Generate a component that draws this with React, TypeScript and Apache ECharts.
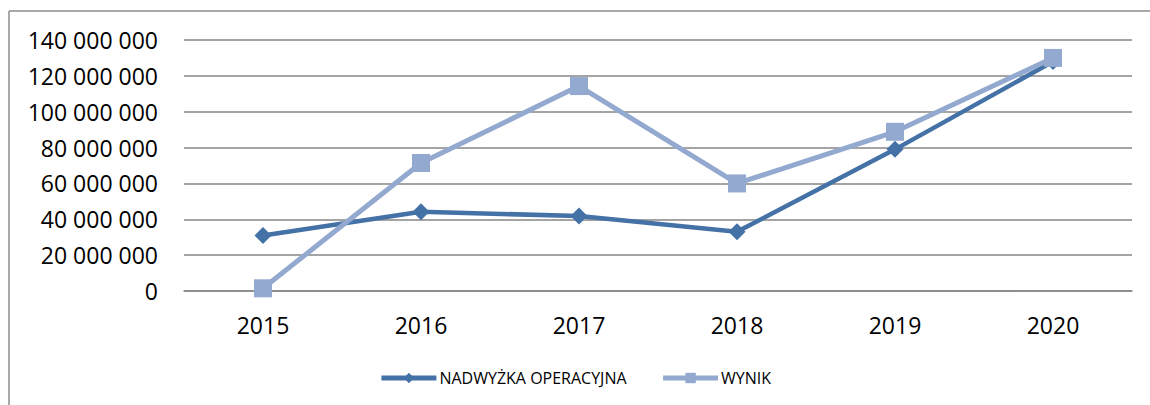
import React, { useEffect, useRef } from "react";
import * as echarts from "echarts";

const categories = ["2015", "2016", "2017", "2018", "2019", "2020"];
const nadwyzka = [31000000, 44200000, 41800000, 33000000, 79000000, 128000000];
const wynik = [1500000, 71400000, 114300000, 60000000, 88800000, 130000000];
const yTicks = { min: 0, max: 140000000, interval: 20000000 };

const fmt = (v: number) => {
  if (v === 0) return "0";
  return String(Math.round(v)).replace(/\B(?=(\d{3})+(?!\d))/g, " ");
};

export default function App() {
  const ref = useRef<HTMLDivElement>(null);
  useEffect(() => {
    if (!ref.current) return;
    const chart = echarts.init(ref.current, null, { renderer: "svg" });
    const font = "'Open Sans', 'Liberation Sans', sans-serif";
    chart.setOption({
      animation: false,
      backgroundColor: "#ffffff",
      textStyle: { fontFamily: font },
      grid: { left: 184, right: 18, top: 40, bottom: 114, containLabel: false },
      graphic: [
        {
          type: "line",
          shape: { x1: 9, y1: 11, x2: 1150, y2: 11 },
          style: { stroke: "#8c8c8c", lineWidth: 1.5 },
        },
        {
          type: "line",
          shape: { x1: 9, y1: 11, x2: 9, y2: 405 },
          style: { stroke: "#8c8c8c", lineWidth: 1.5 },
        },
      ],
      legend: {
        bottom: 14,
        left: "center",
        itemWidth: 55,
        itemHeight: 13,
        itemGap: 34,
        lineStyle: { width: 5 },
        textStyle: { fontSize: 16, color: "#000", fontFamily: font, padding: [0, 0, 0, -2] },
        data: ["NADWYŻKA OPERACYJNA", "WYNIK"],
      },
      xAxis: {
        type: "category",
        data: categories,
        boundaryGap: true,
        axisLine: { show: true, lineStyle: { color: "#868686", width: 1.5 } },
        axisTick: { show: false },
        axisLabel: { fontSize: 23, color: "#000", margin: 22, fontFamily: font },
      },
      yAxis: {
        type: "value",
        min: yTicks.min,
        max: yTicks.max,
        interval: yTicks.interval,
        axisLine: { show: false },
        axisTick: { show: false },
        splitLine: { lineStyle: { color: "#868686", width: 1.5 } },
        axisLabel: {
          fontSize: 23,
          color: "#000",
          margin: 26,
          fontFamily: font,
          formatter: (v: number) => fmt(v),
        },
      },
      series: [
        {
          name: "NADWYŻKA OPERACYJNA",
          type: "line",
          data: nadwyzka,
          symbol: "diamond",
          symbolSize: 17,
          lineStyle: { color: "#4471A6", width: 4.5 },
          itemStyle: { color: "#4471A6" },
          z: 2,
        },
        {
          name: "WYNIK",
          type: "line",
          data: wynik,
          symbol: "rect",
          symbolSize: 18,
          lineStyle: { color: "#93A9CF", width: 5 },
          itemStyle: { color: "#93A9CF" },
          z: 3,
        },
      ],
    });
    return () => chart.dispose();
  }, []);
  return (
    <div
      ref={ref}
      style={{ position: "absolute", left: 0, top: 0, width: 1150, height: 405 }}
    />
  );
}
